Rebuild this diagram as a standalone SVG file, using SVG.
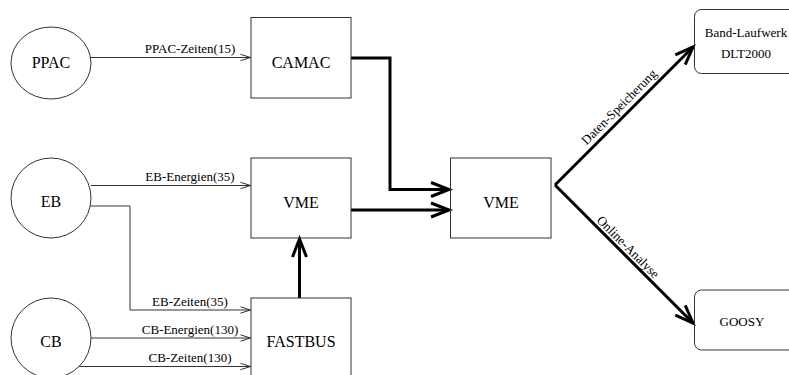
<svg xmlns="http://www.w3.org/2000/svg" width="789" height="375" viewBox="0 0 789 375">
<style>
.node{fill:none;stroke:#333;stroke-width:1}
.big{font-family:"Liberation Serif","Times New Roman",serif;font-size:16px;fill:#000;text-anchor:middle}
.lbl{font-family:"Liberation Serif","Times New Roman",serif;font-size:13px;fill:#000;text-anchor:middle}
.thin{fill:none;stroke:#333;stroke-width:1;marker-end:url(#ah)}
.thick{fill:none;stroke:#000;stroke-width:3;marker-end:url(#AH)}
.thickn{fill:none;stroke:#000;stroke-width:3}
</style>
<defs>
<marker id="ah" markerUnits="userSpaceOnUse" markerWidth="14" markerHeight="10" refX="11" refY="5" orient="auto" overflow="visible">
<path d="M1,1.8 L11,5 L1,8.2" fill="none" stroke="#333" stroke-width="1"/>
</marker>
<marker id="AH" markerUnits="userSpaceOnUse" markerWidth="24" markerHeight="20" refX="19" refY="10" orient="auto" overflow="visible">
<path d="M1,3 L19,10 L1,17" fill="none" stroke="#000" stroke-width="3"/>
</marker>
</defs>
<rect width="789" height="375" fill="#fff"/>
<g id="connectors">
<path class="thin" d="M91,57.5 H250.5"/>
<path class="thin" d="M91,185.5 H250.5"/>
<path class="thin" d="M90,206 H130 V310 H250.5"/>
<path class="thin" d="M91,338 H250.5"/>
<path class="thin" d="M79,366.5 H250.5"/>
<path class="thick" d="M351,58 H390 V189.5 H449"/>
<path class="thick" d="M351,210 H449"/>
<path class="thick" d="M299.5,298 V239"/>
<path class="thick" d="M555,185 L693,47"/>
<path class="thick" d="M555,185 L693,323"/>
<text class="lbl" x="190" y="53">PPAC-Zeiten(15)</text>
<text class="lbl" x="190" y="181">EB-Energien(35)</text>
<text class="lbl" x="190" y="306">EB-Zeiten(35)</text>
<text class="lbl" x="190" y="334">CB-Energien(130)</text>
<text class="lbl" x="190" y="362">CB-Zeiten(130)</text>
<text class="lbl" transform="translate(622,110) rotate(-45)">Daten-Speicherung</text>
<text class="lbl" transform="translate(625,250) rotate(45)">Online-Analyse</text>
</g>
<g id="ppac"><ellipse class="node" cx="51" cy="63" rx="40" ry="36"/><text class="big" x="51" y="68">PPAC</text></g>
<g id="eb"><circle class="node" cx="51" cy="198" r="40"/><text class="big" x="51" y="207">EB</text></g>
<g id="cb"><circle class="node" cx="51" cy="338" r="40"/><text class="big" x="51" y="347">CB</text></g>
<g id="camac"><rect class="node" x="251" y="17.5" width="100" height="80.5"/><text class="big" x="301" y="68">CAMAC</text></g>
<g id="vme1"><rect class="node" x="251" y="158" width="100" height="80"/><text class="big" x="301" y="208">VME</text></g>
<g id="fastbus"><rect class="node" x="251" y="298" width="100" height="100"/><text class="big" x="301" y="347">FASTBUS</text></g>
<g id="vme2"><rect class="node" x="450.5" y="158" width="100.5" height="80"/><text class="big" x="501" y="208">VME</text></g>
<g id="band"><rect class="node" x="694.5" y="9.5" width="110" height="64" rx="7"/><text class="lbl" x="746" y="37">Band-Laufwerk</text><text class="lbl" x="746" y="58">DLT2000</text></g>
<g id="goosy"><rect class="node" x="694.5" y="290" width="110" height="60" rx="7"/><text class="lbl" x="742" y="326">GOOSY</text></g>
</svg>
